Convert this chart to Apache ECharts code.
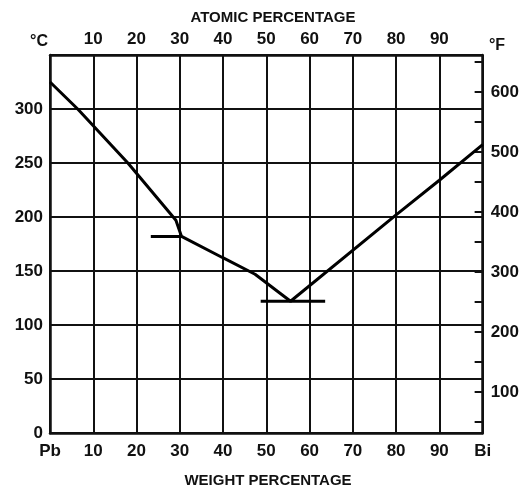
<!DOCTYPE html>
<html>
<head>
<meta charset="utf-8">
<script src="https://cdn.jsdelivr.net/npm/echarts@6/dist/echarts.min.js"></script>
<style>html,body{margin:0;padding:0;background:#fff;}#c{width:522px;height:491px;}</style>
</head>
<body>
<div id="c"></div>
<script>
// Data (weight % Bi, temperature °C)
const liquidusWt = [0, 6.4, 18, 29.1, 30.4, 39.6, 47.4, 55.6, 80, 90, 100];
const liquidusT  = [325, 300, 250, 197, 182, 163, 147, 122, 202, 234, 267];
const peritecticWt = [23.3, 30.4];
const peritecticT  = [182, 182];
const eutecticWt = [48.7, 63.6];
const eutecticT  = [122, 122];
const bottomLabels = ['Pb', '10', '20', '30', '40', '50', '60', '70', '80', '90', 'Bi'];
const topLabels = ['', '10', '20', '30', '40', '50', '60', '70', '80', '90', ''];
const celsiusTicks = [0, 50, 100, 150, 200, 250, 300];
const fahrenheitLabels = [100, 200, 300, 400, 500, 600];
const fahrenheitTicks = [50, 100, 150, 200, 250, 300, 350, 400, 450, 500, 550, 600, 650];

const C_MAX = 350;
const FONT = '"Liberation Sans", Arial, sans-serif';
const INK = '#111';

const zip = (a, b) => a.map((v, i) => [v, b[i]]);

const chart = echarts.init(document.getElementById('c'), null, {renderer: 'canvas'});
const lineStyle = {color: '#000', width: 3};
const labelBase = {color: INK, fontFamily: FONT, fontWeight: 'bold', fontSize: 17};
chart.setOption({
  backgroundColor: '#fff',
  animation: false,
  grid: {left: 50, right: 35, top: 55, bottom: 58},
  xAxis: [
    {
      type: 'value', position: 'bottom', min: 0, max: 100, interval: 10,
      axisLine: {show: true, onZero: false, lineStyle: {color: INK, width: 2.5}},
      axisTick: {show: false},
      splitLine: {show: true, lineStyle: {color: INK, width: 2}},
      axisLabel: Object.assign({margin: 10, formatter: v => bottomLabels[Math.round(v / 10)]}, labelBase)
    },
    {
      type: 'value', position: 'top', min: 0, max: 100, interval: 10,
      axisLine: {show: true, onZero: false, lineStyle: {color: INK, width: 2.5}},
      axisTick: {show: false},
      splitLine: {show: false},
      axisLabel: Object.assign({margin: 7, formatter: v => topLabels[Math.round(v / 10)]}, labelBase)
    }
  ],
  yAxis: [
    {
      type: 'value', position: 'left', min: 0, max: C_MAX, interval: 50,
      axisLine: {show: true, onZero: false, lineStyle: {color: INK, width: 2.5}},
      axisTick: {show: false},
      splitLine: {show: true, lineStyle: {color: INK, width: 2}},
      axisLabel: Object.assign({margin: 7, customValues: celsiusTicks}, labelBase)
    },
    {
      type: 'value', position: 'right', min: 32, max: C_MAX * 1.8 + 32,
      axisLine: {show: true, onZero: false, lineStyle: {color: INK, width: 2.5}},
      axisTick: {show: true, inside: true, length: 8, lineStyle: {color: INK, width: 2}, customValues: fahrenheitTicks},
      splitLine: {show: false},
      axisLabel: Object.assign({margin: 8, customValues: fahrenheitLabels}, labelBase)
    }
  ],
  graphic: [
    {type: 'text', x: 273, y: 18, style: {text: 'ATOMIC PERCENTAGE', align: 'center', verticalAlign: 'middle', fill: INK, font: 'bold 15px ' + FONT}},
    {type: 'text', x: 268, y: 481, style: {text: 'WEIGHT PERCENTAGE', align: 'center', verticalAlign: 'middle', fill: INK, font: 'bold 15px ' + FONT}},
    {type: 'text', x: 39, y: 42, style: {text: '°C', align: 'center', verticalAlign: 'middle', fill: INK, font: 'bold 16px ' + FONT}},
    {type: 'text', x: 497, y: 46, style: {text: '°F', align: 'center', verticalAlign: 'middle', fill: INK, font: 'bold 16px ' + FONT}}
  ],
  series: [
    {type: 'line', xAxisIndex: 0, yAxisIndex: 0, data: zip(liquidusWt, liquidusT), symbol: 'none', lineStyle: lineStyle},
    {type: 'line', xAxisIndex: 0, yAxisIndex: 0, data: zip(peritecticWt, peritecticT), symbol: 'none', lineStyle: lineStyle},
    {type: 'line', xAxisIndex: 0, yAxisIndex: 0, data: zip(eutecticWt, eutecticT), symbol: 'none', lineStyle: lineStyle}
  ]
});
</script>
</body>
</html>
